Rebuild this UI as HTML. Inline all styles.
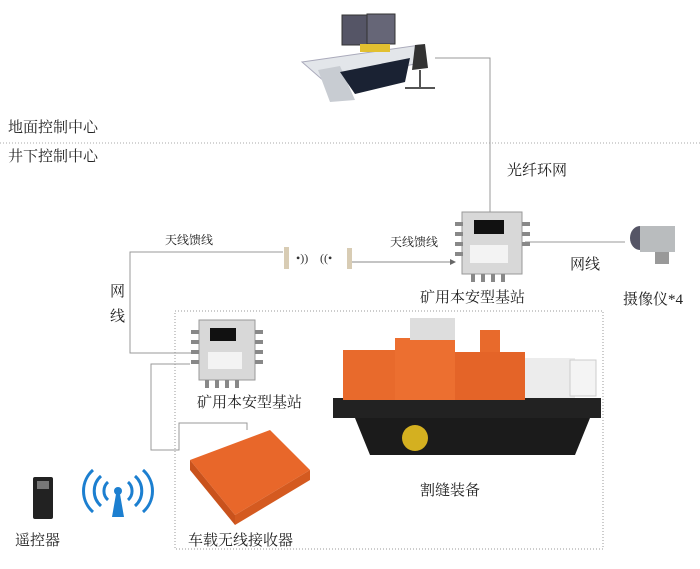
<!DOCTYPE html>
<html><head><meta charset="utf-8"><style>
body{margin:0;width:700px;height:569px;background:#fff;overflow:hidden;position:relative;font-family:"Liberation Serif","Noto Serif CJK SC",serif;color:#222}
.t{position:absolute;font-size:15px;white-space:nowrap;line-height:1}
.s{font-size:12px}
</style></head><body>
<svg width="700" height="569" style="position:absolute;left:0;top:0">
<defs><marker id="a" markerWidth="6" markerHeight="6" refX="5" refY="3" orient="auto"><path d="M0,0L6,3L0,6z" fill="#666"/></marker></defs>
<line x1="0" y1="143" x2="700" y2="143" stroke="#aaa" stroke-dasharray="1,2"/>
<rect x="175" y="311" width="428" height="238" fill="none" stroke="#999" stroke-dasharray="1,2"/>
<g fill="none" stroke="#999" stroke-width="1">
<polyline points="435,58 490,58 490,212"/>
<polyline points="525,242 625,242"/>
<polyline points="283,252 130,252 130,353 195,353"/>
<polyline points="190,364 151,364 151,450 179,450 179,423 247,423 247,430"/>
</g>
<line x1="352" y1="262" x2="455" y2="262" stroke="#888" marker-end="url(#a)"/>
<!-- control desk -->
<g>
<polygon points="302,62 420,45 425,62 325,82" fill="#e3e6ea" stroke="#aab"/>
<polygon points="318,70 340,66 355,100 330,102" fill="#c8ccd2"/>
<polygon points="340,72 410,58 405,82 355,94" fill="#1a2233"/>
<rect x="342" y="15" width="28" height="30" fill="#556" stroke="#333"/>
<rect x="367" y="14" width="28" height="30" fill="#667" stroke="#333"/>
<rect x="360" y="44" width="30" height="8" fill="#e2c030"/>
<path d="M415,45 L425,44 L428,68 L412,70z" fill="#333"/>
<line x1="420" y1="70" x2="420" y2="88" stroke="#555" stroke-width="2"/>
<line x1="405" y1="88" x2="435" y2="88" stroke="#555" stroke-width="2"/>
</g>
<!-- base station 1 -->
<g>
<rect x="462" y="212" width="60" height="62" fill="#d8d8d8" stroke="#999"/>
<rect x="474" y="220" width="30" height="14" fill="#111"/>
<rect x="470" y="245" width="38" height="18" fill="#f3f3f3"/>
<g fill="#888"><rect x="455" y="222" width="8" height="4"/><rect x="455" y="232" width="8" height="4"/><rect x="455" y="242" width="8" height="4"/><rect x="455" y="252" width="8" height="4"/>
<rect x="522" y="222" width="8" height="4"/><rect x="522" y="232" width="8" height="4"/><rect x="522" y="242" width="8" height="4"/>
<rect x="471" y="274" width="4" height="8"/><rect x="481" y="274" width="4" height="8"/><rect x="491" y="274" width="4" height="8"/><rect x="501" y="274" width="4" height="8"/></g>
</g>
<!-- base station 2 -->
<g>
<rect x="199" y="320" width="56" height="60" fill="#d8d8d8" stroke="#999"/>
<rect x="210" y="328" width="26" height="13" fill="#111"/>
<rect x="208" y="352" width="34" height="17" fill="#f3f3f3"/>
<g fill="#888"><rect x="191" y="330" width="8" height="4"/><rect x="191" y="340" width="8" height="4"/><rect x="191" y="350" width="8" height="4"/><rect x="191" y="360" width="8" height="4"/>
<rect x="255" y="330" width="8" height="4"/><rect x="255" y="340" width="8" height="4"/><rect x="255" y="350" width="8" height="4"/><rect x="255" y="360" width="8" height="4"/>
<rect x="205" y="380" width="4" height="8"/><rect x="215" y="380" width="4" height="8"/><rect x="225" y="380" width="4" height="8"/><rect x="235" y="380" width="4" height="8"/></g>
</g>
<!-- antennas -->
<rect x="284" y="247" width="5" height="22" fill="#d8ccb4"/>
<rect x="347" y="248" width="5" height="21" fill="#d8ccb4"/>
<text x="296" y="262" font-size="12" fill="#333">•))</text>
<text x="320" y="262" font-size="12" fill="#333">((•</text>
<!-- camera -->
<ellipse cx="640" cy="238" rx="10" ry="12" fill="#556"/>
<rect x="640" y="226" width="35" height="26" fill="#b9bcbe"/>
<rect x="655" y="252" width="14" height="12" fill="#999"/>
<!-- machine -->
<g>
<rect x="333" y="398" width="268" height="20" fill="#222"/>
<path d="M355,418 L590,418 L575,455 L370,455z" fill="#1b1b1b"/>
<circle cx="415" cy="438" r="13" fill="#d4b020"/>
<rect x="343" y="350" width="55" height="50" fill="#e86a2c"/>
<rect x="395" y="338" width="60" height="62" fill="#ec6f30"/>
<rect x="410" y="318" width="45" height="22" fill="#ddd"/>
<rect x="455" y="352" width="70" height="48" fill="#e46428"/>
<rect x="480" y="330" width="20" height="22" fill="#e86a2c"/>
<rect x="525" y="358" width="50" height="40" fill="#ececec"/>
<rect x="570" y="360" width="26" height="36" fill="#f4f4f4" stroke="#ccc"/>
</g>
<!-- receiver -->
<polygon points="190,460 270,430 310,470 235,515" fill="#e8672a"/>
<polygon points="190,460 235,515 235,525 190,470" fill="#c9521c"/>
<polygon points="235,515 310,470 310,480 235,525" fill="#d45a20"/>
<!-- remote -->
<rect x="33" y="477" width="20" height="42" rx="2" fill="#222"/>
<rect x="37" y="481" width="12" height="8" fill="#777"/>
<!-- wifi -->
<g fill="none" stroke="#1c7fd0" stroke-width="3">
<path d="M108,482 a12,12 0 0 0 0,18"/><path d="M128,482 a12,12 0 0 1 0,18"/>
<path d="M101,476 a20,20 0 0 0 0,30"/><path d="M135,476 a20,20 0 0 1 0,30"/>
<path d="M93,470 a28,28 0 0 0 0,42"/><path d="M143,470 a28,28 0 0 1 0,42"/>
</g>
<circle cx="118" cy="491" r="4" fill="#1c7fd0"/>
<polygon points="116,494 120,494 124,517 112,517" fill="#1c7fd0"/>
</svg>
<div class="t" style="left:8px;top:121px">地面控制中心</div>
<div class="t" style="left:8px;top:150px">井下控制中心</div>
<div class="t" style="left:507px;top:164px">光纤环网</div>
<div class="t s" style="left:165px;top:234px">天线馈线</div>
<div class="t s" style="left:390px;top:236px">天线馈线</div>
<div class="t" style="left:110px;top:285px">网</div>
<div class="t" style="left:110px;top:310px">线</div>
<div class="t" style="left:570px;top:258px">网线</div>
<div class="t" style="left:420px;top:291px">矿用本安型基站</div>
<div class="t" style="left:623px;top:293px">摄像仪*4</div>
<div class="t" style="left:197px;top:396px">矿用本安型基站</div>
<div class="t" style="left:420px;top:484px">割缝装备</div>
<div class="t" style="left:15px;top:534px">遥控器</div>
<div class="t" style="left:188px;top:534px">车载无线接收器</div>
</body></html>
